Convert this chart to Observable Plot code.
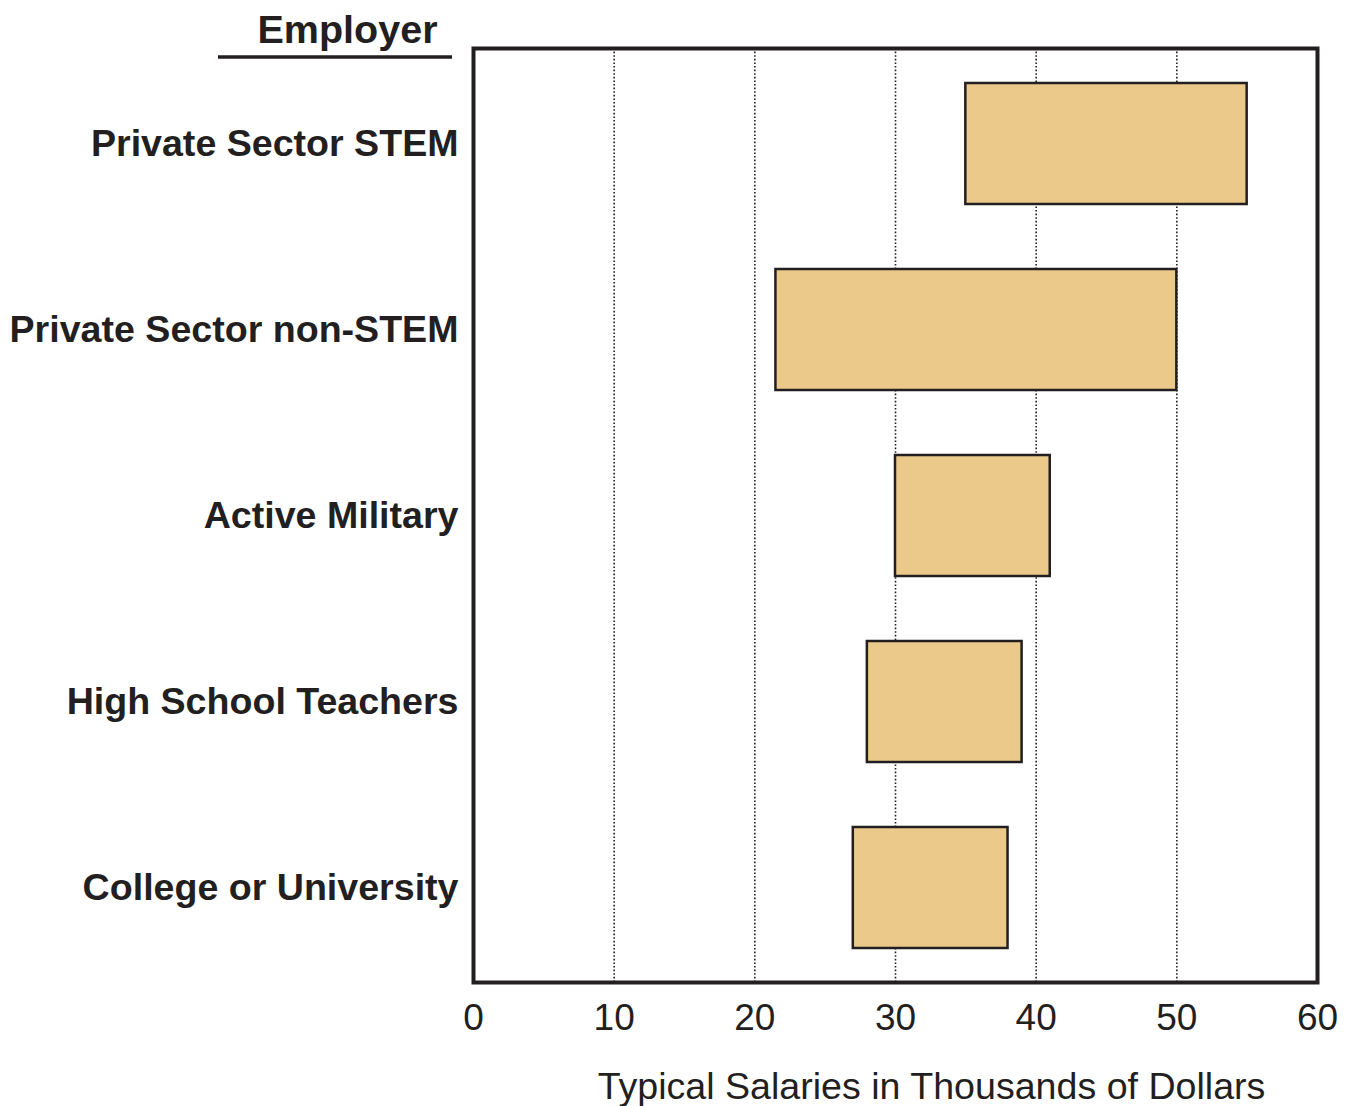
<!DOCTYPE html>
<html>
<head>
<meta charset="utf-8">
<script src="https://cdn.jsdelivr.net/npm/d3@7"></script>
<script src="https://cdn.jsdelivr.net/npm/@observablehq/plot@0.6"></script>
<style>
  html, body { margin: 0; padding: 0; background: #fff; }
  #chart svg { display: block; }
</style>
</head>
<body>
<div id="chart"></div>
<script>
const employers = ["Private Sector STEM", "Private Sector non-STEM", "Active Military", "High School Teachers", "College or University"];
const salaryLow = [35, 21.5, 30, 28, 27];
const salaryHigh = [55, 50, 41, 39, 38];
const xTicks = [0, 10, 20, 30, 40, 50, 60];
const gridTicks = [10, 20, 30, 40, 50];
const xTitle = "Typical Salaries in Thousands of Dollars";
const yTitle = "Employer";

const data = employers.map((name, i) => ({name, lo: salaryLow[i], hi: salaryHigh[i]}));
const ink = "#231f20";

const chart = Plot.plot({
  width: 1350,
  height: 1106,
  marginLeft: 473,
  marginRight: 33,
  marginTop: 48,
  marginBottom: 124,
  style: {fontFamily: "'Liberation Sans', Arial, sans-serif", color: ink, background: "#fff"},
  x: {domain: [0, 60], ticks: xTicks, label: null},
  y: {domain: employers, paddingInner: 0.35, paddingOuter: 0.175, label: null},
  marks: [
    Plot.ruleX(gridTicks, {stroke: ink, strokeWidth: 1.6, strokeDasharray: "1.6,2"}),
    Plot.barX(data, {x1: "lo", x2: "hi", y: "name", fill: "#ebc98a", stroke: ink, strokeWidth: 2.5}),
    Plot.frame({stroke: ink, strokeWidth: 4}),
    Plot.axisX({ticks: xTicks, tickSize: 0, tickPadding: 21, fontSize: 37, fill: ink, label: null}),
    Plot.axisY({tickSize: 0, tickPadding: 15, fontSize: 37.6, fontWeight: "bold", fill: ink, label: null}),
    Plot.text([xTitle], {text: d => d, frameAnchor: "bottom", dy: 104, dx: 36, fontSize: 37.6, fill: ink, lineAnchor: "middle"}),
    Plot.text([yTitle], {text: d => d, frameAnchor: "top-left", dx: -126, dy: -18, fontSize: 39.5, fontWeight: "bold", fill: ink, textAnchor: "middle", lineAnchor: "middle"})
  ]
});

d3.select(chart).append("line")
  .attr("x1", 218).attr("x2", 452)
  .attr("y1", 57).attr("y2", 57)
  .attr("stroke", ink).attr("stroke-width", 3.5);

document.getElementById("chart").appendChild(chart);
</script>
</body>
</html>
